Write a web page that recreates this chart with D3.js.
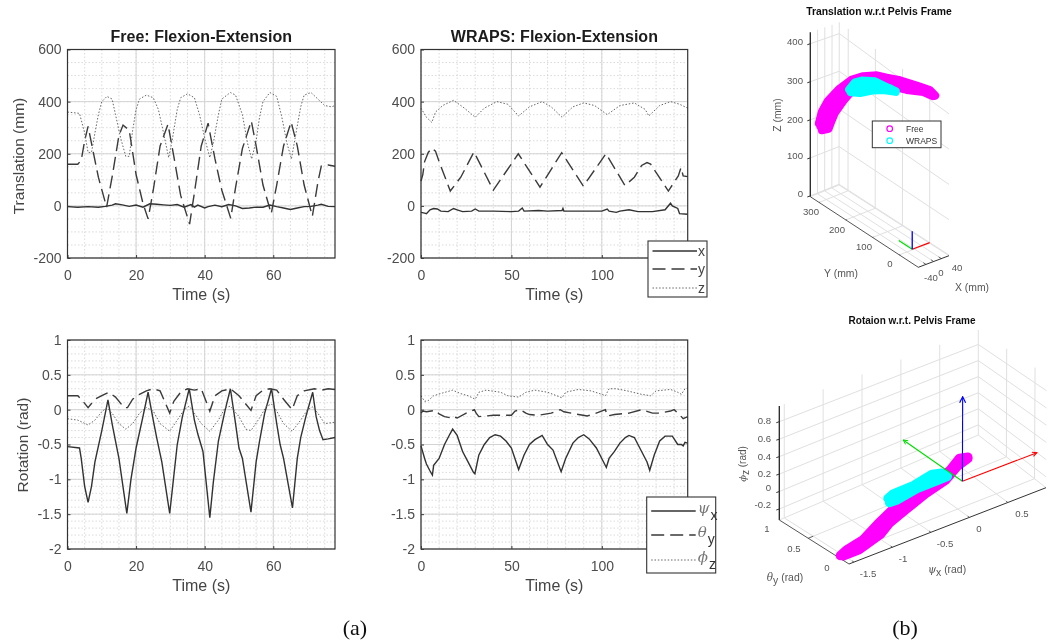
<!DOCTYPE html>
<html>
<head>
<meta charset="utf-8">
<script src="https://cdn.jsdelivr.net/npm/d3@7"></script>
<style>
  html, body { margin: 0; padding: 0; background: #fff; }
  text { font-family: "Liberation Sans", Arial, sans-serif; }
</style>
</head>
<body>
<div id="chart"></div>
<script>
// time series, [t, value]
var freeTransX = [[0,-3],[3,-5],[6,-3],[9,-5],[11,-2],[13,3],[14,8],[16,4],[18,-2],[20,3],[22,-5],[24,8],[26,6],[28,4],[30,2],[32,5],[34,-5],[36,5],[37,-5],[38,3],[40,-8],[41,-3],[43,3],[45,-3],[47,5],[49,0],[51,-10],[53,-8],[55,-5],[57,-5],[59,3],[61,-3],[63,-8],[65,-14],[67,-8],[69,-3],[71,-2],[73,3],[74,6],[76,-2],[78,-3]];
var freeTransY = [[0,160],[3,160],[4,175],[5,250],[6,305],[7,240],[9,110],[11.4,-5],[13,110],[15,270],[16.2,310],[18,290],[20,120],[22,10],[23.5,-50],[25,60],[27,230],[29.3,313],[31,190],[33,40],[35.6,-70],[37,50],[39,230],[41,317],[43,180],[45,60],[47.6,-48],[49,70],[51,220],[53.6,326],[55,230],[57,80],[59.4,-30],[61,80],[63,230],[65.2,322],[67,230],[69,80],[71.4,-40],[73,90],[74,153],[76,157],[78,152]];
var freeTransZ = [[0,360],[3.5,355],[5,280],[6,205],[7,205],[8,280],[9,350],[10,400],[11.5,420],[13,410],[14,350],[15.5,260],[17,190],[18,190],[19,290],[20,370],[21,410],[23,425],[25,415],[26.5,370],[28,280],[29.5,185],[30.5,250],[32,370],[33,415],[35,430],[37,415],[38.5,350],[40,260],[41.5,185],[42.5,240],[44,350],[45,410],[47.5,435],[49,425],[51,350],[52.5,240],[53.7,180],[55,250],[56,340],[57,400],[59,435],[61,420],[62.5,340],[64,240],[65.3,180],[66.5,270],[68,380],[69,425],[71,435],[73,410],[75,385],[77,380],[78,385]];

var wrapsTransX = [[0,-25],[2,-28],[3,-30],[5,-15],[7,-10],[9,-12],[11,-20],[15,-22],[18,-10],[20,-15],[23,-22],[28,-20],[30,-12],[32,-20],[40,-20],[50,-22],[54,-20],[56,-8],[57,-20],[65,-18],[70,-20],[78,-18],[78.5,-10],[79,-20],[90,-20],[100,-20],[103,-12],[104,-20],[108,-25],[110,-20],[115,-15],[120,-22],[128,-22],[135,-15],[138,10],[139,0],[142,-10],[143,-30],[147.5,-32]];
var wrapsTransY = [[0,95],[1,120],[2,170],[4,205],[6,222],[8,210],[10,170],[16.2,57],[22,110],[29.3,207],[40,60],[53.8,200],[65.8,72],[77.8,204],[89.8,76],[102.3,200],[112.8,78],[118,110],[122,155],[125,166],[127,160],[136.8,57],[142.3,115],[143.8,147],[145,115],[147.5,112]];
var wrapsTransZ = [[0,375],[3,340],[6,320],[8,360],[12,385],[18,405],[24,375],[30,340],[35,375],[42,400],[48,390],[54,345],[60,380],[67,400],[72,380],[78,340],[84,380],[90,395],[96,385],[103,350],[110,385],[118,395],[124,370],[126,345],[132,385],[138,400],[143,390],[147.5,375]];

var freeRotPsi = [[0,-.53],[3.5,-.55],[4,-.7],[5,-1.1],[6,-1.33],[7,-1.1],[8,-.75],[10,-.3],[11.8,.14],[13,-.2],[14,-.45],[15,-.7],[17.3,-1.49],[18.5,-1],[20,-.55],[22,-.1],[23.5,.25],[25,-.15],[26,-.4],[27.5,-.75],[29.8,-1.49],[31,-.95],[32,-.5],[33.5,-.1],[35.5,.3],[37,-.15],[38,-.35],[39.5,-.6],[41.5,-1.55],[42.5,-1.05],[44,-.45],[46,0],[47.5,.3],[49,-.2],[50,-.55],[51,-.7],[53.5,-1.47],[55,-.75],[56,-.45],[57.5,-.05],[59.5,.3],[61,-.2],[62,-.5],[63,-.7],[65.6,-1.41],[67,-.7],[68,-.4],[69.5,-.1],[71.5,.25],[72.5,-.1],[73.5,-.3],[74.5,-.43],[76,-.42],[78,-.4]];
var freeRotTheta = [[0,.2],[3,.2],[4,.15],[6,.03],[8,.15],[10,.2],[12,.25],[14,.18],[16.5,.03],[17.5,.03],[19,.15],[21,.22],[23,.27],[25,.3],[27,.27],[29.8,-.05],[31,.12],[33,.25],[35,.3],[37,.28],[39,.3],[41.5,-.02],[43,.2],[45,.27],[47.5,.3],[50,.2],[53.5,-.01],[55,.2],[57,.28],[59,.3],[61,.28],[63,.15],[65.5,0],[67,.2],[69,.27],[72,.3],[74,.28],[76,.3],[78,.29]];
var freeRotPhi = [[0,-.13],[3,-.15],[6,-.22],[8,-.15],[10,-.03],[11.5,.03],[13,-.05],[15,-.2],[17,-.28],[19,-.2],[21,-.05],[23,.03],[25,-.02],[27,-.2],[29.8,-.31],[32,-.15],[34,0],[35.5,.05],[37,-.05],[39,-.2],[41.5,-.31],[44,-.15],[46,.03],[47.5,.05],[50,-.1],[52,-.28],[53.5,-.3],[56,-.12],[58,.05],[59.5,.08],[61,-.02],[63,-.2],[65.5,-.31],[68,-.15],[70,0],[71.5,.04],[73,-.05],[75,-.2],[78,-.18]];

var wrapsRotPsi = [[0,-.52],[2,-.7],[3,-.78],[5,-.88],[6.3,-.94],[7,-.8],[10,-.7],[13,-.5],[16,-.35],[17.5,-.28],[20,-.37],[23,-.6],[26,-.75],[29,-.9],[29.8,-.92],[32,-.65],[35,-.5],[38,-.4],[41,-.36],[44,-.38],[47,-.45],[50,-.55],[54,-.86],[57,-.65],[60,-.5],[63,-.43],[67,-.37],[70,-.5],[73,-.58],[77.5,-.89],[80,-.7],[84,-.48],[87,-.4],[90,-.36],[93,-.42],[97,-.55],[102.5,-.83],[104,-.7],[107,-.6],[110,-.48],[113,-.4],[115,-.37],[118,-.4],[121,-.55],[125,-.75],[126.5,-.87],[129,-.65],[132,-.45],[135,-.38],[139,-.38],[142,-.5],[144,-.5],[145,-.52],[146,-.47],[147.5,-.48]];
var wrapsRotTheta = [[0,-.05],[1,-.02],[3,-.03],[8,-.01],[10,-.06],[13,-.1],[17,-.12],[18,-.1],[20,-.12],[25,-.05],[29.5,0],[30.5,-.05],[32,-.1],[40,-.08],[50,-.08],[52,-.02],[55,0],[58,-.05],[60,-.07],[65,-.08],[72,-.05],[77,0],[79,-.03],[85,-.06],[92,-.09],[98,-.04],[102,0],[103,-.09],[107,-.07],[115,-.05],[122,0],[128,-.05],[132,-.05],[138,-.02],[140,0],[143,-.07],[145,-.13],[147.5,-.1]];
var wrapsRotPhi = [[0,.2],[2,.12],[4,.13],[7,.2],[12,.24],[17.5,.28],[22,.23],[26,.2],[30,.15],[32,.25],[36,.28],[44,.25],[48,.2],[54,.18],[58,.25],[63,.28],[70,.25],[78,.17],[80,.25],[87,.29],[94,.27],[100,.22],[102,.2],[104,.3],[108,.3],[114,.27],[122,.22],[127,.2],[130,.27],[138,.29],[142,.25],[144,.22],[146,.3],[147.5,.31]];

// 3d clouds as strands of [x, y, z]
var freeCloudTrans = [
  [[-10,348,171],[-10,337,207],[-10,315,246],[-10,274,298],[-10,228,347],[-10,183,381],[-10,133,410],[-10,96,424],[-10,47,444],[-10,-15,464],[-10,-64,479],[-10,-84,475]],
  [[-10,342,165],[-10,325,190],[-10,308,222],[-10,281,263],[-10,230,328],[-10,183,363],[-10,133,396],[-10,90,416],[-10,35,437],[-10,-28,462],[-10,-70,470],[-10,-79,472]],
  [[-10,337,158],[-10,312,174],[-10,302,198],[-10,288,229],[-10,257,276],[-10,232,310],[-10,183,345],[-10,133,382],[-10,84,408],[-10,22,431],[-10,-40,460],[-10,-74,468]]
];
var wrapsCloudTrans = [
  [[-10,236,317],[-10,214,348],[-10,189,366],[-10,140,390],[-10,102,397],[-10,63,405]],
  [[-10,232,317],[-10,189,349],[-10,133,380],[-10,84,401]],
  [[-10,230,313],[-10,195,329],[-10,146,362],[-10,109,383],[-10,63,403]]
];
var freeCloudRot = [
  [[-1.525,0,-.33],[-1.435,.01,-.30],[-1.19,.05,-.285],[-.97,.09,-.198],[-.77,.12,-.129],[-.5,.17,-.096],[-.21,.22,-.097],[.09,.26,-.028],[.235,.29,.045],[.36,.31,.003]],
  [[-1.485,0,-.348],[-1.24,.04,-.374],[-.92,.10,-.337],[-.8,.12,-.269],[-.57,.15,-.211],[-.26,.21,-.156],[.04,.26,-.126],[.21,.29,-.042],[.36,.31,-.016]],
  [[-1.3,.03,-.33],[-1,.08,-.27],[-.8,.12,-.2],[-.55,.16,-.15],[-.25,.21,-.125],[.05,.26,-.08]]
];
var wrapsCloudRot = [
  [[-.945,-.05,.137],[-.87,-.05,.167],[-.61,-.05,.173],[-.37,-.05,.221],[-.246,-.05,.193],[-.17,-.05,.13]],
  [[-.924,-.05,.081],[-.83,-.05,.078],[-.57,-.05,.122],[-.29,-.05,.124],[-.18,-.05,.126]]
];

var timeTicksFree = [0, 20, 40, 60];
var timeTicksWraps = [0, 50, 100];
var transTicks = [-200, 0, 200, 400, 600];
var rotTicks = [-2, -1.5, -1, -0.5, 0, 0.5, 1];
var transLegend = ["x", "y", "z"];
var rotLegend = [["\u03C8", "x"], ["\u03B8", "y"], ["\u03D5", "z"]];
var seriesDash = [null, "13 6", "1.5 1.8"];
var seriesColor = ["#333", "#3a3a3a", "#666"];

var W = 1055, H = 643;
var svg = d3.select("#chart").append("svg").attr("width", W).attr("height", H);

// the reference is a soft raster, so a very light blur over everything
var defs = svg.append("defs");
defs.append("filter").attr("id", "soft")
  .attr("filterUnits", "userSpaceOnUse")
  .attr("x", 0).attr("y", 0).attr("width", W).attr("height", H)
  .append("feGaussianBlur").attr("stdDeviation", 0.5);
defs.append("marker").attr("id", "headR").attr("viewBox", "0 0 8 8").attr("refX", 7).attr("refY", 4)
  .attr("markerWidth", 6).attr("markerHeight", 6).attr("markerUnits", "userSpaceOnUse").attr("orient", "auto")
  .append("path").attr("d", "M1,1L7,4L1,7").attr("fill", "none").attr("stroke", "#f00").attr("stroke-width", 1.4);
defs.append("marker").attr("id", "headB").attr("viewBox", "0 0 8 8").attr("refX", 7).attr("refY", 4)
  .attr("markerWidth", 8).attr("markerHeight", 8).attr("markerUnits", "userSpaceOnUse").attr("orient", "auto")
  .append("path").attr("d", "M1,1L7,4L1,7").attr("fill", "none").attr("stroke", "#00f").attr("stroke-width", 1.2);
defs.append("marker").attr("id", "headG").attr("viewBox", "0 0 8 8").attr("refX", 7).attr("refY", 4)
  .attr("markerWidth", 6).attr("markerHeight", 6).attr("markerUnits", "userSpaceOnUse").attr("orient", "auto")
  .append("path").attr("d", "M1,1L7,4L1,7").attr("fill", "none").attr("stroke", "#0d0").attr("stroke-width", 1.2);

var root = svg.append("g").attr("filter", "url(#soft)");
root.append("rect").attr("width", W).attr("height", H).attr("fill", "#fff");

var tickCol = "#4d4d4d";

function drawPanel(p, idx) {
  var g = root.append("g");
  var x = d3.scaleLinear().domain(p.xDomain).range([p.left, p.right]);
  var y = d3.scaleLinear().domain(p.yDomain).range([p.bottom, p.top]);

  // minor grid
  g.append("g").selectAll("line").data(d3.range(p.xDomain[0], p.xDomain[1], p.xMinor)).enter().append("line")
    .attr("x1", function (d) { return x(d); }).attr("x2", function (d) { return x(d); })
    .attr("y1", p.top).attr("y2", p.bottom)
    .attr("stroke", "#d2d2d2").attr("stroke-width", 0.8).attr("stroke-dasharray", "1.5 2");
  g.append("g").selectAll("line").data(d3.range(p.yDomain[0], p.yDomain[1], p.yMinor)).enter().append("line")
    .attr("y1", function (d) { return y(d); }).attr("y2", function (d) { return y(d); })
    .attr("x1", p.left).attr("x2", p.right)
    .attr("stroke", "#d2d2d2").attr("stroke-width", 0.8).attr("stroke-dasharray", "1.5 2");

  // major grid
  g.append("g").selectAll("line").data(p.xTicks).enter().append("line")
    .attr("x1", function (d) { return x(d); }).attr("x2", function (d) { return x(d); })
    .attr("y1", p.top).attr("y2", p.bottom).attr("stroke", "#d4d4d4").attr("stroke-width", 1);
  g.append("g").selectAll("line").data(p.yTicks).enter().append("line")
    .attr("y1", function (d) { return y(d); }).attr("y2", function (d) { return y(d); })
    .attr("x1", p.left).attr("x2", p.right).attr("stroke", "#d4d4d4").attr("stroke-width", 1);

  // lines
  var line = d3.line().x(function (d) { return x(d[0]); }).y(function (d) { return y(d[1]); });
  p.series.forEach(function (s, i) {
    g.append("path").attr("d", line(s)).attr("fill", "none")
      .attr("stroke", seriesColor[i]).attr("stroke-width", i == 2 ? 1 : 1.4)
      .attr("stroke-dasharray", seriesDash[i]);
  });

  // box
  g.append("rect").attr("x", p.left).attr("y", p.top)
    .attr("width", p.right - p.left).attr("height", p.bottom - p.top)
    .attr("fill", "none").attr("stroke", "#333").attr("stroke-width", 1.2);

  // axes
  var ax = g.append("g").attr("transform", "translate(0," + p.bottom + ")")
    .call(d3.axisBottom(x).tickValues(p.xTicks).tickSize(-3).tickPadding(12).tickFormat(d3.format("d")));
  var ay = g.append("g").attr("transform", "translate(" + p.left + ",0)")
    .call(d3.axisLeft(y).tickValues(p.yTicks).tickSize(-3).tickPadding(6).tickFormat(function (d) { return String(d); }));
  [ax, ay].forEach(function (a) {
    a.select(".domain").remove();
    a.selectAll(".tick line").attr("stroke", "#3a3a3a");
    a.selectAll("text").attr("font-size", 14).attr("fill", tickCol)
      .style("font-family", "'Liberation Sans', Arial, sans-serif");
  });

  g.append("text").attr("x", (p.left + p.right) / 2).attr("y", p.bottom + 42)
    .attr("text-anchor", "middle").attr("font-size", 16).attr("fill", "#444").text("Time (s)");
  if (p.title) {
    g.append("text").attr("x", (p.left + p.right) / 2).attr("y", p.top - 8)
      .attr("text-anchor", "middle").attr("font-size", 16).attr("font-weight", "bold").attr("fill", "#1a1a1a").text(p.title);
  }
  if (p.yLabel) {
    g.append("text").attr("transform", "translate(" + p.yLabelX + "," + p.yLabelY + ") rotate(-90)")
      .attr("text-anchor", "middle").attr("font-size", 15.5).attr("fill", "#444").text(p.yLabel);
  }

  if (p.legend) {
    var lg = p.legend;
    g.append("rect").attr("x", lg.x0).attr("y", lg.y0).attr("width", lg.x1 - lg.x0).attr("height", lg.y1 - lg.y0)
      .attr("fill", "#fff").attr("stroke", "#333").attr("stroke-width", 1.1);
    lg.rows.forEach(function (yy, i) {
      g.append("line").attr("x1", lg.x0 + 4.5).attr("x2", lg.x0 + 49).attr("y1", yy).attr("y2", yy)
        .attr("stroke", seriesColor[i]).attr("stroke-width", i == 2 ? 1 : 1.4).attr("stroke-dasharray", seriesDash[i]);
      var lab = lg.labels[i];
      if (typeof lab == "string") {
        g.append("text").attr("x", lg.x0 + 50).attr("y", yy + 5).attr("font-size", 14).attr("fill", "#444").text(lab);
      } else {
        var tx = g.append("text").attr("x", lg.x0 + 51).attr("y", yy + 2).attr("font-size", 15).attr("fill", "#777");
        tx.append("tspan").attr("font-style", "italic").style("font-family", "'DejaVu Serif', serif").text(lab[0]);
        tx.append("tspan").attr("dy", 7).attr("dx", 1).attr("font-size", 14).attr("fill", "#333").text(lab[1]);
      }
    });
  }
}

var panels = [
  { left: 67.5, right: 335, top: 49.5, bottom: 258, xDomain: [0, 78], yDomain: [-200, 600],
    xTicks: timeTicksFree, yTicks: transTicks, xMinor: 5, yMinor: 50,
    title: "Free: Flexion-Extension", yLabel: "Translation (mm)", yLabelX: 24, yLabelY: 156,
    series: [freeTransX, freeTransY, freeTransZ] },
  { left: 421, right: 687.7, top: 49.5, bottom: 258, xDomain: [0, 147.5], yDomain: [-200, 600],
    xTicks: timeTicksWraps, yTicks: transTicks, xMinor: 10, yMinor: 50,
    title: "WRAPS: Flexion-Extension",
    series: [wrapsTransX, wrapsTransY, wrapsTransZ],
    legend: { x0: 648, x1: 707, y0: 241, y1: 297, rows: [251, 269, 288], labels: transLegend } },
  { left: 67.5, right: 335, top: 340, bottom: 549, xDomain: [0, 78], yDomain: [-2, 1],
    xTicks: timeTicksFree, yTicks: rotTicks, xMinor: 5, yMinor: 0.1,
    yLabel: "Rotation (rad)", yLabelX: 28, yLabelY: 445,
    series: [freeRotPsi, freeRotTheta, freeRotPhi] },
  { left: 421, right: 687.7, top: 340, bottom: 549, xDomain: [0, 147.5], yDomain: [-2, 1],
    xTicks: timeTicksWraps, yTicks: rotTicks, xMinor: 10, yMinor: 0.1,
    series: [wrapsRotPsi, wrapsRotTheta, wrapsRotPhi],
    legend: { x0: 646.7, x1: 715.7, y0: 497, y1: 573, rows: [511, 535, 560], labels: rotLegend } }
];
panels.forEach(drawPanel);

// 3d boxes: projection goes through three scales, then a blend of the 8 screen corners
function makeProjection(b) {
  var sx = d3.scaleLinear().domain(b.x).range([0, 1]);
  var sy = d3.scaleLinear().domain(b.y).range([0, 1]); // 0 = ymin (near), 1 = ymax
  var sz = d3.scaleLinear().domain(b.z).range([0, 1]);
  return function (x, y, z) {
    var u = sx(x), v = sy(y), w = sz(z);
    function blend(k) {
      var bot = (1 - v) * ((1 - u) * b.B[k] + u * b.C[k]) + v * ((1 - u) * b.A[k] + u * b.D[k]);
      var top = (1 - v) * ((1 - u) * b.B2[k] + u * b.C2[k]) + v * ((1 - u) * b.A2[k] + u * b.D2[k]);
      return (1 - w) * bot + w * top;
    }
    return [blend(0), blend(1)];
  };
}

function draw3d(b) {
  var g = root.append("g");
  var P = makeProjection(b);
  var path = d3.line();
  var xmin = b.x[0], xmax = b.x[1], ymin = b.y[0], ymax = b.y[1], zmin = b.z[0], zmax = b.z[1];
  function grid(pts) {
    g.append("path").attr("d", path(pts.map(function (q) { return P(q[0], q[1], q[2]); })))
      .attr("fill", "none").attr("stroke", "#e0e0e0").attr("stroke-width", 1);
  }
  b.xTicks.forEach(function (t) { grid([[t, ymin, zmin], [t, ymax, zmin], [t, ymax, zmax]]); });
  b.yTicks.forEach(function (t) { grid([[xmin, t, zmin], [xmax, t, zmin], [xmax, t, zmax]]); });
  b.zTicks.forEach(function (t) { grid([[xmin, ymax, t], [xmax, ymax, t], [xmax, ymin, t]]); });
  grid([[xmin, ymax, zmin], [xmax, ymax, zmin], [xmax, ymin, zmin]]);
  grid([[xmax, ymax, zmin], [xmax, ymax, zmax]]);

  // axis lines
  function axis(a, c, w) {
    g.append("path").attr("d", path([P(a[0], a[1], a[2]), P(c[0], c[1], c[2])]))
      .attr("stroke", c[3] || "#222").attr("stroke-width", w).attr("fill", "none");
  }
  axis([xmin, ymax, zmin], [xmin, ymax, zmax], 1.3);
  axis([xmin, ymax, zmin], [xmin, ymin, zmin, "#555"], 1);
  axis([xmin, ymin, zmin], [xmax, ymin, zmin, "#333"], 1);
  var dxTick = (xmax - xmin) * 0.025, dyTick = (ymax - ymin) * 0.025;
  b.zTicks.forEach(function (t) {
    var q = P(xmin, ymax, t);
    g.append("line").attr("x1", q[0] - 3).attr("x2", q[0]).attr("y1", q[1] + 1).attr("y2", q[1]).attr("stroke", "#333");
  });
  b.yTicks.forEach(function (t) { axis([xmin, t, zmin], [xmin + dxTick, t, zmin, "#444"], 0.8); });
  b.xTicks.forEach(function (t) { axis([t, ymin, zmin], [t, ymin + dyTick, zmin, "#444"], 0.8); });

  // clouds
  function cloud(strands, col, w) {
    strands.forEach(function (s) {
      g.append("path").attr("d", path(s.map(function (q) { return P(q[0], q[1], q[2]); })))
        .attr("fill", "none").attr("stroke", col).attr("stroke-width", w)
        .attr("stroke-linecap", "round").attr("stroke-linejoin", "round");
    });
  }
  cloud(b.free, "#ff00ff", b.band);
  cloud(b.wraps, "#00ffff", b.band);

  // pelvis frame
  b.frame.forEach(function (f) {
    var a = P(b.origin[0], b.origin[1], b.origin[2]), e = P(f.to[0], f.to[1], f.to[2]);
    var ln = g.append("line").attr("x1", a[0]).attr("y1", a[1]).attr("x2", e[0]).attr("y2", e[1])
      .attr("stroke", f.col).attr("stroke-width", b.frameW);
    if (b.heads) ln.attr("marker-end", "url(#" + f.head + ")");
  });

  b.labels.forEach(function (l) {
    var t = g.append("text").attr("text-anchor", l.anchor || "middle").attr("font-size", l.size || 9.6)
      .attr("font-weight", l.bold ? "bold" : null).attr("fill", l.fill || "#555");
    if (l.rot) t.attr("transform", "translate(" + l.x + "," + l.y + ") rotate(" + l.rot + ")");
    else t.attr("x", l.x).attr("y", l.y);
    if (l.sym) {
      t.append("tspan").attr("font-style", "italic").style("font-family", "'DejaVu Serif', serif").text(l.sym);
      t.append("tspan").attr("dy", 3).text(l.sub);
      t.append("tspan").attr("dy", -3).text(" " + l.text);
    } else t.text(l.text);
  });
  return g;
}

var topBox = {
  x: [-80, 80], y: [-71, 333], z: [-2, 430],
  A: [810.3, 196.7], A2: [810.3, 32.3], B: [918.3, 267.3], B2: [918.3, 113.3],
  C: [949, 255.7], C2: [949, 103.3], D: [839, 185], D2: [839.3, 22.3],
  xTicks: [-40, 0, 40], yTicks: [0, 100, 200, 300], zTicks: [0, 100, 200, 300, 400],
  free: freeCloudTrans, wraps: wrapsCloudTrans, band: 8,
  origin: [-12, 0, 0], frameW: 1.3,
  frame: [{ to: [80, 0, 0], col: "#f00" }, { to: [-12, 50, 0], col: "#0d0" }, { to: [-12, 0, 50], col: "#00f" }],
  labels: [
    { text: "Translation w.r.t Pelvis Frame", x: 879, y: 15, size: 10.4, bold: true, fill: "#111" },
    { text: "400", x: 803, y: 45, anchor: "end" }, { text: "300", x: 803, y: 83.5, anchor: "end" },
    { text: "200", x: 803, y: 123.3, anchor: "end" }, { text: "100", x: 803, y: 159, anchor: "end" },
    { text: "0", x: 803, y: 197.3, anchor: "end" },
    { text: "Z (mm)", x: 781, y: 115, rot: -90, size: 10.4 },
    { text: "300", x: 811, y: 215 }, { text: "200", x: 837, y: 233 }, { text: "100", x: 864, y: 250 }, { text: "0", x: 890, y: 267 },
    { text: "Y (mm)", x: 841, y: 277, size: 10.4 },
    { text: "-40", x: 931, y: 281 }, { text: "0", x: 941, y: 276 }, { text: "40", x: 957, y: 271 },
    { text: "X (mm)", x: 972, y: 291, size: 10.4 }
  ]
};
var topG = draw3d(topBox);
// legend of the top 3d plot
var cloudLegend = ["Free", "WRAPS"];
var cloudColors = ["#ff00ff", "#00ffff"];
topG.append("rect").attr("x", 872.3).attr("y", 121).attr("width", 68.7).attr("height", 26.7)
  .attr("fill", "#fff").attr("stroke", "#333").attr("stroke-width", 1);
cloudLegend.forEach(function (n, i) {
  var yy = 128.7 + i * 12;
  topG.append("circle").attr("cx", 889.7).attr("cy", yy).attr("r", 2.8)
    .attr("fill", "none").attr("stroke", cloudColors[i]).attr("stroke-width", 1.2);
  topG.append("text").attr("x", 906).attr("y", yy + 3).attr("font-size", 8.5).attr("fill", "#333").text(n);
});

var botBox = {
  x: [-1.564, 0.996], y: [-0.205, 1], z: [-0.326, 0.98],
  A: [779.3, 520], A2: [779.3, 406], B: [849, 564], B2: [849, 445.7],
  C: [1046, 487.7], C2: [1046.7, 375.3], D: [978.3, 435], D2: [978.3, 330],
  xTicks: [-1.5, -1, -0.5, 0, 0.5], yTicks: [0, 0.5], zTicks: [-0.2, 0, 0.2, 0.4, 0.6, 0.8],
  free: freeCloudRot, wraps: wrapsCloudRot, band: 9,
  origin: [0.03, -0.04, 0], frameW: 1.1, heads: true,
  frame: [{ to: [0.996, -0.04, 0], col: "#f00", head: "headR" }, { to: [0.03, 1, 0], col: "#0d0", head: "headG" }, { to: [0.03, -0.04, 0.97], col: "#00f", head: "headB" }],
  labels: [
    { text: "Rotaion w.r.t. Pelvis Frame", x: 912, y: 324, size: 10, bold: true, fill: "#111" },
    { text: "0.8", x: 771, y: 424, anchor: "end" }, { text: "0.6", x: 771, y: 442, anchor: "end" },
    { text: "0.4", x: 771, y: 460, anchor: "end" }, { text: "0.2", x: 771, y: 477, anchor: "end" },
    { text: "0", x: 771, y: 491, anchor: "end" }, { text: "-0.2", x: 771, y: 508, anchor: "end" },
    { text: "(rad)", sym: "\u03D5", sub: "z", x: 746, y: 464, rot: -90, size: 10 },
    { text: "1", x: 767, y: 532 }, { text: "0.5", x: 794, y: 552 }, { text: "0", x: 827, y: 571 },
    { text: "(rad)", sym: "\u03B8", sub: "y", x: 785, y: 581, size: 10.4 },
    { text: "-1.5", x: 868, y: 577 }, { text: "-1", x: 903, y: 562 }, { text: "-0.5", x: 945, y: 547 },
    { text: "0", x: 979, y: 532 }, { text: "0.5", x: 1022, y: 517 },
    { text: "(rad)", sym: "\u03C8", sub: "x", x: 947, y: 573, size: 10.4 }
  ]
};
draw3d(botBox);

// sub figure captions
[["(a)", 355], ["(b)", 905]].forEach(function (c) {
  root.append("text").attr("x", c[1]).attr("y", 635).attr("text-anchor", "middle")
    .attr("font-size", 22).attr("fill", "#111")
    .style("font-family", "'Liberation Serif', serif").text(c[0]);
});
</script>
</body>
</html>
